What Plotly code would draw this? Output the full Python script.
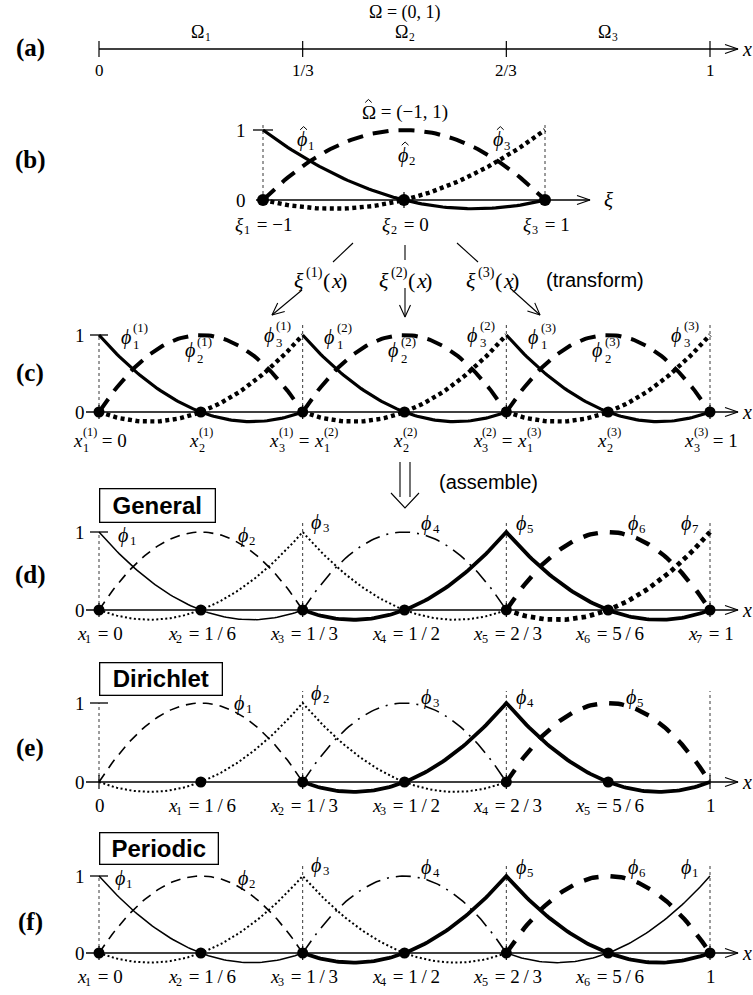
import numpy as np
import plotly.graph_objects as go

W, H = 753, 995

# ---------------- values shown in the figure ----------------
edge_x = [0, 1/3, 2/3, 1]                       # element boundaries of Ω = (0,1)
edge_text = ["0", "1/3", "2/3", "1"]
subdomain_ids = ["1", "2", "3"]                 # Ω_1, Ω_2, Ω_3
ref_xi = [-1, 0, 1]                             # reference nodes ξ_1, ξ_2, ξ_3
ref_xi_text = ["−1", "0", "1"]
node_x = [0, 1/6, 1/3, 1/2, 2/3, 5/6, 1]        # assembled nodes
node_text = ["0", "1/6", "1/3", "1/2", "2/3", "5/6", "1"]
# unknown numbering for each boundary treatment (0 = no unknown at that node)
general_dof = [1, 2, 3, 4, 5, 6, 7]
dirichlet_dof = [0, 1, 2, 3, 4, 5, 0]
periodic_dof = [1, 2, 3, 4, 5, 6, 1]

# quadratic Lagrange shape functions on the reference element
XI = np.linspace(-1, 1, 81)
LOCAL_SHAPES = [XI * (XI - 1) / 2, 1 - XI ** 2, XI * (XI + 1) / 2]

# ---------------- page geometry (pixels) ----------------
X0_PX, X1_PX = 99, 710          # x = 0 and x = 1
XI_M1_PX, XI_SCALE = 263, 141   # ξ = -1 position, px per unit of ξ
PANEL_ROWS = {                  # pixel rows of y = 0 and y = 1
    "a": (49, 29), "b": (200, 130), "c": (412, 335),
    "d": (610, 532), "e": (782, 703), "f": (953, 876),
}
Y_AXIS = {"a": "y", "b": "y2", "c": "y3", "d": "y4", "e": "y5", "f": "y6"}

X_SCALE = X1_PX - X0_PX
X_LO = -X0_PX / X_SCALE
X_HI = X_LO + W / X_SCALE
XI_LO = -1 - XI_M1_PX / XI_SCALE
XI_HI = XI_LO + W / XI_SCALE


def px2x(p):
    return (p - X0_PX) / X_SCALE


def px2xi(p):
    return -1 + (p - XI_M1_PX) / XI_SCALE


def xi2px(v):
    return XI_M1_PX + (v + 1) * XI_SCALE


def px2y(key, p):
    p0, p1 = PANEL_ROWS[key]
    return (p0 - p) / (p0 - p1)


def y2px(key, v):
    p0, p1 = PANEL_ROWS[key]
    return p0 - v * (p0 - p1)


SERIF = "Liberation Serif, Times New Roman, DejaVu Serif, serif"
SANS = "Liberation Sans, Arial, sans-serif"

fig = go.Figure()


def line(xs, ys, xa, ya, width=1.2, dash="solid", color="black"):
    fig.add_trace(go.Scatter(
        x=list(xs), y=list(ys), xaxis=xa, yaxis=ya, mode="lines",
        line=dict(color=color, width=width, dash=dash),
        hoverinfo="skip", showlegend=False))


def dots(xs, xa, ya, size=11):
    fig.add_trace(go.Scatter(
        x=list(xs), y=[0] * len(xs), xaxis=xa, yaxis=ya, mode="markers",
        marker=dict(color="black", size=size), hoverinfo="skip", showlegend=False))


def chevron(tx, ty, ang_deg, length=12, spread=4.5, width=1.2):
    """Open arrow head drawn on the page-pixel axes; tip at (tx, ty)."""
    a = np.radians(ang_deg)
    ux, uy = np.cos(a), np.sin(a)
    nx, ny = -uy, ux
    bx, by = tx - ux * length, ty - uy * length
    line([bx + nx * spread, tx, bx - nx * spread],
         [by + ny * spread, ty, by - ny * spread], "x3", "y7", width)


def note(x, y, text, xref="x3", yref="y7", size=19, family=SERIF,
         xanchor="center", yanchor="middle", xshift=0, yshift=0, **kw):
    fig.add_annotation(
        x=x, y=y, xref=xref, yref=yref, text=text, showarrow=False,
        font=dict(family=family, size=size, color="black"),
        xanchor=xanchor, yanchor=yanchor, xshift=xshift, yshift=yshift,
        borderpad=0, **kw)


EM = {"x": 0.444, "ϕ": 0.56, "ξ": 0.47, "Ω": 0.77, "=": 0.564, "\u00a0": 0.25,
      "\u2009": 0.18, "/": 0.278, "(": 0.333, ")": 0.333, "−": 0.564,
      ",": 0.25}


def tw(s, size):
    return size * sum(EM.get(c, 0.5) for c in s)


def mlabel(x, y, xref, yref, parts, size=19, xshift=0, yshift=0, sub_dx=-1.0,
           page_xy=None):
    """Math-like label.  Each part is (text, italic, subscript, superscript[, hat]);
    sub- and superscripts are stacked right after the text.  A hat is drawn as a
    small stroke, which needs the label's page position page_xy."""
    ss = round(size * 0.64, 1)
    segs, total = [], 0.0
    for p in parts:
        t, it, sub, sup = p[:4]
        hat = len(p) > 4 and p[4]
        t = t.replace(" ", "\u00a0")
        wm = tw(t, size)
        ws = max(tw(sub, ss), tw(sup, ss)) + (2 if (sub or sup) else 0)
        segs.append((t, it, sub, sup, hat, wm, ws))
        total += wm + ws
    off = xshift - total / 2
    for t, it, sub, sup, hat, wm, ws in segs:
        if t:
            note(x, y, f"<i>{t}</i>" if it else t, xref, yref, size,
                 xanchor="left", xshift=off, yshift=yshift)
        if hat and page_xy is not None:
            cx = page_xy[0] + off + wm / 2 + (2.5 if it else 0.5)
            cy = page_xy[1] - yshift - 0.50 * size
            hw = 0.17 * size
            line([cx - hw, cx, cx + hw], [cy, cy - 0.16 * size, cy], "x3", "y7", 1.0)
        if sub and sup:
            note(x, y, f"{sup}<br>{sub}", xref, yref, ss, xanchor="left",
                 align="left", xshift=off + wm + 1.5, yshift=yshift + 0.02 * size)
        elif sub:
            note(x, y, sub, xref, yref, ss, xanchor="left",
                 xshift=off + wm + 1 + sub_dx, yshift=yshift - 0.30 * size)
        elif sup:
            note(x, y, sup, xref, yref, ss, xanchor="left",
                 xshift=off + wm + 1.5, yshift=yshift + 0.36 * size)
        off += wm + ws


def frac(s):
    return s.replace("/", "\u2009/\u2009")


def x_axis_arrow(key, start_px=86, tip_px=738, label="x"):
    ya = Y_AXIS[key]
    p0 = PANEL_ROWS[key][0]
    line([px2x(start_px), px2x(tip_px)], [0, 0], "x", ya, 1.3)
    chevron(tip_px, p0, 0, 13, 4.5, 1.2)
    note(px2x(tip_px + 9), 0, f"<i>{label}</i>", "x", ya, 20, xanchor="center")


def unit_ticks(key, lab_shift=-19):
    ya = Y_AXIS[key]
    line([px2x(X0_PX - 9), px2x(X0_PX + 9)], [1, 1], "x", ya, 1.3)
    note(0, 1, "1", "x", ya, 19, xshift=lab_shift)
    note(0, 0, "0", "x", ya, 19, xshift=lab_shift)


def axis_ticks(key, xs, xa="x", half=7):
    ya = Y_AXIS[key]
    p0 = PANEL_ROWS[key][0]
    for v in xs:
        line([v, v], [px2y(key, p0 + half), px2y(key, p0 - half)], xa, ya, 1.2)


def guides(key, xs, xa="x", over=12):
    ya = Y_AXIS[key]
    p1 = PANEL_ROWS[key][1]
    for i, v in enumerate(xs):
        top = 1 if i == 0 else px2y(key, p1 - over)
        line([v, v], [0, top], xa, ya, 0.9, "3px,3px", "#222")


# ---------------- (a) the domain and its elements ----------------
ya = Y_AXIS["a"]
line([0, px2x(738)], [0, 0], "x", ya, 1.3)
chevron(738, PANEL_ROWS["a"][0], 0, 13, 4.5, 1.2)
note(px2x(747), 0, "<i>x</i>", "x", ya, 20)
axis_ticks("a", edge_x, half=8)
for v, t in zip(edge_x, edge_text):
    note(v, 0, t, "x", ya, 17, yshift=-21)
for e, sid in enumerate(subdomain_ids):
    mid = (edge_x[e] + edge_x[e + 1]) / 2
    mlabel(mid, 0, "x", ya, [("Ω", False, sid, "")], size=18, yshift=17)
note(0.5, 0, "Ω = (0, 1)", "x", ya, 18, yshift=37)

# ---------------- (b) reference element ----------------
REF_STYLES = [dict(width=3.2, dash="solid"),
              dict(width=4.0, dash="16px,10px"),
              dict(width=4.4, dash="4px,3.5px")]
yb = Y_AXIS["b"]
line([px2xi(256), px2xi(590)], [0, 0], "x2", yb, 1.3)
chevron(590, PANEL_ROWS["b"][0], 0, 13, 4.5, 1.2)
note(px2xi(608), 0, "<i>ξ</i>", "x2", yb, 21)
for v in [-1, 1]:
    line([v, v], [0, px2y("b", PANEL_ROWS["b"][1] - 8)], "x2", yb, 0.9, "3px,3px", "#222")
axis_ticks("b", [0], "x2", half=8)
line([px2xi(XI_M1_PX - 10), px2xi(XI_M1_PX + 10)], [1, 1], "x2", yb, 1.3)
note(-1, 1, "1", "x2", yb, 19, xshift=-22)
note(-1, 0, "0", "x2", yb, 19, xshift=-22)
for j in range(3):
    line(XI, LOCAL_SHAPES[j], "x2", yb, **REF_STYLES[j])
dots(ref_xi, "x2", yb, 12)
for j, (v, t) in enumerate(zip(ref_xi, ref_xi_text)):
    mlabel(v, 0, "x2", yb, [("ξ", True, str(j + 1), ""), (" = " + t, False, "", "")],
           size=19, yshift=-24)
mlabel(0, 0, "x2", yb, [("Ω", False, "", "", True), (" = (−1, 1)", False, "", "")],
       size=19, yshift=88, page_xy=(xi2px(0), y2px("b", 0)))
REF_LABEL_POS = [(-0.70, 0.86), (0.02, 0.64), (0.695, 0.86)]
for j, (lx, ly) in enumerate(REF_LABEL_POS):
    mlabel(lx, ly, "x2", yb, [("ϕ", True, str(j + 1), "", True)], size=20,
           page_xy=(xi2px(lx), y2px("b", ly)))

# ---------------- mapping arrows (transform) ----------------
CONNECTORS = [((353, 243), (333, 262), (302, 290), (272, 315)),
              ((405, 245), (405, 260), (405, 288), (405, 317)),
              ((457, 243), (478, 262), (510, 288), (540, 315))]
for (s0, s1, a0, a1) in CONNECTORS:
    line([s0[0], s1[0]], [s0[1], s1[1]], "x3", "y7", 1.1)
    line([a0[0], a1[0]], [a0[1], a1[1]], "x3", "y7", 1.1)
    ang = np.degrees(np.arctan2(a1[1] - a0[1], a1[0] - a0[0]))
    chevron(a1[0], a1[1], ang, 12, 5.5, 1.1)
for e, cx in enumerate([320, 405, 492]):
    mlabel(cx, 280, "x3", "y7",
           [("ξ", True, "", f"({e + 1})"), ("(", False, "", ""), ("x", True, "", ""),
            (")", False, "", "")], size=22)
note(595, 280, "(transform)", size=20, family=SANS)

# ---------------- (c) local basis on each element ----------------
yc = Y_AXIS["c"]
x_axis_arrow("c")
guides("c", edge_x)
axis_ticks("c", edge_x)
unit_ticks("c")
for e in range(3):
    a, b = edge_x[e], edge_x[e + 1]
    xe = a + (XI + 1) / 2 * (b - a)
    for j in range(3):
        line(xe, LOCAL_SHAPES[j], "x", yc, **REF_STYLES[j])
dots(node_x, "x", yc, 11)
ELEM_LABEL_POS = [(-0.66, 0.97), (-0.03, 0.80), (0.745, 1.0)]
for e in range(3):
    a, b = edge_x[e], edge_x[e + 1]
    for j, (lxi, ly) in enumerate(ELEM_LABEL_POS):
        mlabel(a + (lxi + 1) / 2 * (b - a), ly, "x", yc,
               [("ϕ", True, str(j + 1), f"({e + 1})")], size=20)
for i, v in enumerate(node_x):
    names = []
    if i % 2 == 0:
        if i > 0:
            names.append(("3", f"({i // 2})"))
        if i < 6:
            names.append(("1", f"({i // 2 + 1})"))
    else:
        names.append(("2", f"({(i + 1) // 2})"))
    parts = []
    for k, (sub, sup) in enumerate(names):
        if k > 0:
            parts.append((" = ", False, "", ""))
        parts.append(("x", True, sub, sup))
    if i == 0:
        parts.append((" = 0", False, "", ""))
    if i == 6:
        parts.append((" = 1", False, "", ""))
    mlabel(v, 0, "x", yc, parts, size=19, yshift=-28)

# assemble arrow
for sx in (400, 410):
    line([sx, sx], [462, 497], "x3", "y7", 1.1)
line([391, 405, 419], [493, 508, 493], "x3", "y7", 1.1)
note(488, 482, "(assemble)", size=20, family=SANS)

# ---------------- (d)-(f) assembled global basis ----------------
FINE_STYLES = [
    dict(width=1.5, dash="solid"),
    dict(width=1.6, dash="10px,7px"),
    dict(width=2.0, dash="2px,2.5px"),
    dict(width=1.6, dash="15px,7px,2px,7px"),
    dict(width=3.8, dash="solid"),
    dict(width=4.4, dash="15px,12px"),
    dict(width=4.8, dash="4.5px,4px"),
]


def global_curve(dofs, d):
    xs, ys, last_end = [], [], None
    for e in range(3):
        a, b = edge_x[e], edge_x[e + 1]
        for j in range(3):
            if dofs[2 * e + j] == d:
                if xs and abs(last_end - a) > 1e-9:
                    xs.append(None)
                    ys.append(None)
                xs.extend(a + (XI + 1) / 2 * (b - a))
                ys.extend(LOCAL_SHAPES[j])
                last_end = b
    return xs, ys


PHI_LABEL_POS = {
    "d": [(0.046, -3), (0.242, -3), (0.362, 10), (0.542, 9), (0.697, 9), (0.880, 9), (0.967, 9)],
    "e": [(0.236, 0), (0.362, 10), (0.542, 6), (0.697, 6), (0.877, 6)],
    "f": [(0.040, -2), (0.242, -2), (0.362, 11), (0.542, 9), (0.697, 9), (0.880, 9), (0.967, 9)],
}
BOXES = {"d": ("General", 488, 117, 35), "e": ("Dirichlet", 662, 124, 34),
         "f": ("Periodic", 832, 120, 33)}
LETTERS = {"a": 48, "b": 160, "c": 373, "d": 575, "e": 748, "f": 922}

for key, dofs in (("d", general_dof), ("e", dirichlet_dof), ("f", periodic_dof)):
    yk = Y_AXIS[key]
    x_axis_arrow(key)
    guides(key, edge_x)
    axis_ticks(key, edge_x)
    unit_ticks(key)
    n_dof = max(dofs)
    for d in range(1, n_dof + 1):
        first = dofs.index(d)
        xs, ys = global_curve(dofs, d)
        line(xs, ys, "x", yk, **FINE_STYLES[first])
    dots([v for v, d in zip(node_x, dofs) if d > 0], "x", yk, 11)
    # unknown labels
    label_ids = list(range(1, n_dof + 1))
    if key == "f":
        label_ids.append(1)
    for d, (lx, dy) in zip(label_ids, PHI_LABEL_POS[key]):
        mlabel(lx, 1, "x", yk, [("ϕ", True, str(d), "")], size=20, yshift=dy)
    # node labels
    seen = set()
    for i, (v, t, d) in enumerate(zip(node_x, node_text, dofs)):
        if d == 0 or d in seen:
            mlabel(v, 0, "x", yk, [(t, False, "", "")], size=19, yshift=-23)
        else:
            mlabel(v, 0, "x", yk, [("x", True, str(d), ""), (" = " + frac(t), False, "", "")],
                   size=19, yshift=-23)
        seen.add(d)
    name, top, bw, bh = BOXES[key]
    note(X0_PX, top, f"<b>{name}</b>", size=24, family=SANS, xanchor="left",
         yanchor="top", width=bw - 3, height=bh - 3, align="center",
         bordercolor="black", borderwidth=1.3, bgcolor="white")

for key, row in LETTERS.items():
    note(30, row, f"<b>({key})</b>", size=25)

# ---------------- axes ----------------
layout_axes = {
    "xaxis": dict(range=[X_LO, X_HI], domain=[0, 1], visible=False, fixedrange=True),
    "xaxis2": dict(range=[XI_LO, XI_HI], domain=[0, 1], visible=False,
                   overlaying="x", fixedrange=True),
    "xaxis3": dict(range=[0, W], domain=[0, 1], visible=False, overlaying="x",
                   fixedrange=True),
    "yaxis7": dict(range=[H, 0], domain=[0, 1], visible=False, overlaying="y",
                   fixedrange=True),
}
for i, key in enumerate("abcdef"):
    p0, p1 = PANEL_ROWS[key]
    k = p0 - p1
    hi = p0 / k
    lo = hi - H / k
    name = "yaxis" if i == 0 else f"yaxis{i + 1}"
    ax = dict(range=[lo, hi], domain=[0, 1], visible=False, fixedrange=True)
    if i > 0:
        ax["overlaying"] = "y"
    layout_axes[name] = ax

fig.update_layout(
    width=W, height=H, margin=dict(l=0, r=0, t=0, b=0),
    paper_bgcolor="white", plot_bgcolor="white", showlegend=False,
    **layout_axes)

fig.write_html("out.html")
